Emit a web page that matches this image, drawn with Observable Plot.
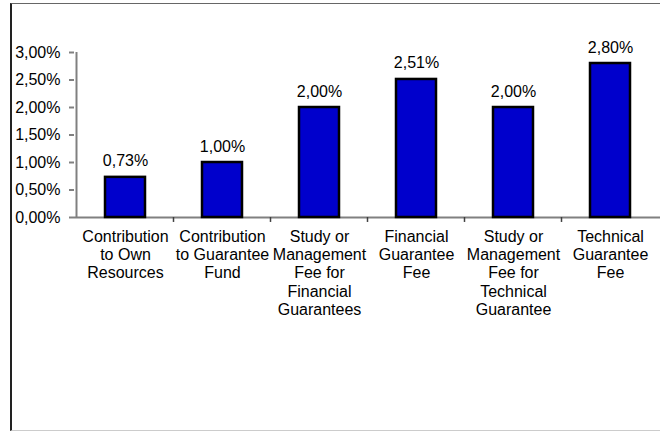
<!DOCTYPE html>
<html>
<head>
<meta charset="utf-8">
<script src="https://cdn.jsdelivr.net/npm/d3@7"></script>
<script src="https://cdn.jsdelivr.net/npm/@observablehq/plot@0.6"></script>
<style>
  html, body { margin: 0; padding: 0; background: #fff; }
  #wrap { position: relative; width: 660px; height: 435px; overflow: hidden; }
  #frame { position: absolute; left: 10px; top: 3px; width: 660px; height: 428px;
           border-left: 2px solid #222; border-top: 1px solid #666; border-bottom: 1px solid #ccc;
           box-sizing: border-box; pointer-events: none; }
  #chart { position: absolute; left: 0; top: 0; }
</style>
</head>
<body>
<div id="wrap"><div id="chart"></div><div id="frame"></div></div>
<script>
const categories = [
  "Contribution\nto Own\nResources",
  "Contribution\nto Guarantee\nFund",
  "Study or\nManagement\nFee for\nFinancial\nGuarantees",
  "Financial\nGuarantee\nFee",
  "Study or\nManagement\nFee for\nTechnical\nGuarantee",
  "Technical\nGuarantee\nFee"
];
const values = [0.73, 1.00, 2.00, 2.51, 2.00, 2.80];
const yTicks = [0, 0.5, 1.0, 1.5, 2.0, 2.5, 3.0];

const data = categories.map((c, i) => ({category: c, value: values[i]}));
const fmt = v => v.toFixed(2).replace(".", ",") + "%";
const font = "Liberation Sans, Arial, sans-serif";

const chart = Plot.plot({
  width: 660,
  height: 435,
  marginLeft: 74,
  marginRight: -1,
  marginTop: 52,
  marginBottom: 218,
  style: {fontFamily: font, fontSize: "16px", color: "#000", background: "transparent", overflow: "visible"},
  x: {domain: categories, paddingInner: 0.59, paddingOuter: 0.295, axis: null},
  y: {domain: [0, 3], axis: null},
  marks: [
    Plot.axisY({ticks: yTicks, tickFormat: fmt, tickSize: 5, tickPadding: 9, label: null,
                stroke: "#808080", strokeWidth: 2, fontSize: 16, fill: "#000"}),
    Plot.ruleX([categories[0]], {x: d => d, dx: -49, y1: 0, y2: 3, stroke: "#808080", strokeWidth: 2}),
    Plot.ruleY([0], {stroke: "#808080", strokeWidth: 2}),
    Plot.ruleX(categories.slice(1), {x: d => d, dx: -49, y1: 0, y2: -0.09, stroke: "#404040", strokeWidth: 1.5}),
    Plot.barY(data, {x: "category", y: "value", fill: "#0000CC", stroke: "#000", strokeWidth: 2.5}),
    Plot.text(data, {x: "category", y: "value", text: d => fmt(d.value), lineAnchor: "bottom",
                     dy: -11, fontSize: 16, fill: "#000"}),
    Plot.text(data, {x: "category", y: 0, text: "category", lineAnchor: "top", dy: 12,
                     lineHeight: 1.13, fontSize: 16, fill: "#000"})
  ]
});
document.getElementById("chart").appendChild(chart);
</script>
</body>
</html>
